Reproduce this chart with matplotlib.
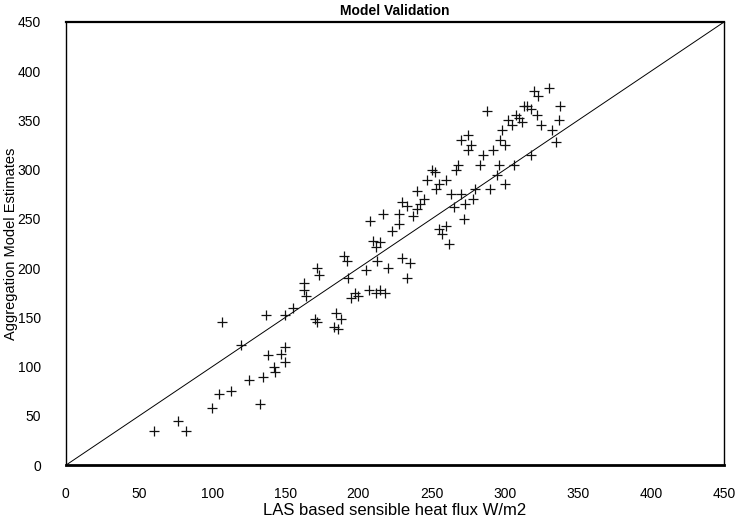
import matplotlib
matplotlib.use("Agg")
import matplotlib.pyplot as plt

plt.rcParams['font.family'] = ['Liberation Sans', 'DejaVu Sans']

las_flux = [60, 77, 82, 100, 105, 113, 107, 120, 125, 133, 135, 137, 138, 142, 143, 147,
            150, 150, 150, 155, 163, 163, 164, 170, 172, 172, 173, 183, 185, 186, 188,
            190, 192, 193, 195, 198, 200, 205, 207, 208, 210, 212, 212, 213, 215, 215,
            217, 218, 220, 223, 228, 228, 230, 230, 233, 233, 235, 237, 240, 240, 242,
            245, 247, 250, 252, 253, 255, 255, 257, 260, 260, 262, 263, 265, 267, 268,
            270, 270, 272, 273, 275, 275, 277, 278, 280, 283, 285, 288, 290, 292, 295,
            296, 297, 298, 300, 300, 302, 305, 306, 308, 310, 312, 313, 315, 318, 318,
            320, 322, 323, 325, 330, 332, 335, 337, 338]
model_est = [35, 45, 35, 58, 72, 75, 145, 122, 87, 62, 90, 152, 112, 100, 95, 113,
             120, 105, 153, 160, 185, 178, 172, 148, 145, 200, 193, 140, 155, 138, 148,
             212, 207, 190, 170, 175, 172, 198, 178, 248, 228, 222, 175, 207, 227, 178,
             255, 175, 200, 238, 255, 245, 267, 210, 263, 190, 205, 253, 260, 278, 265,
             270, 290, 300, 298, 280, 240, 285, 235, 243, 290, 225, 275, 262, 300, 305,
             330, 275, 250, 265, 320, 335, 325, 270, 280, 305, 315, 360, 280, 320, 295,
             305, 330, 340, 325, 285, 350, 345, 305, 355, 352, 348, 365, 365, 362, 315,
             380, 355, 375, 345, 383, 340, 328, 350, 365]
one_to_one = [0, 450]
ticks = [0, 50, 100, 150, 200, 250, 300, 350, 400, 450]

fig = plt.figure(figsize=(7.39, 5.21), dpi=100)
ax = fig.add_axes([0.089, 0.107, 0.891, 0.851])
ax.plot(one_to_one, one_to_one, color='black', linewidth=0.7)
ax.plot(las_flux, model_est, linestyle='none', marker='+', color='#111111',
        markersize=7, markeredgewidth=0.9)
ax.set_xlim(0, 450)
ax.set_ylim(0, 450)
ax.set_xticks(ticks)
ax.set_yticks(ticks)
ax.tick_params(axis='y', length=0, labelsize=10, pad=18)
ax.tick_params(axis='x', length=0, labelsize=10, pad=16)
for s in ax.spines.values():
    s.set_linewidth(1.0)
ax.spines['bottom'].set_linewidth(2.0)
ax.spines['top'].set_linewidth(1.6)
ax.set_xlabel('LAS based sensible heat flux W/m2', fontsize=12, labelpad=1)
ax.set_ylabel('Aggregation Model Estimates', fontsize=10.5, labelpad=1)
ax.yaxis.set_label_coords(-0.072, 0.5)
ax.set_title('Model Validation', fontsize=10, fontweight='semibold', pad=5)
fig.savefig('out.png', dpi=100)
